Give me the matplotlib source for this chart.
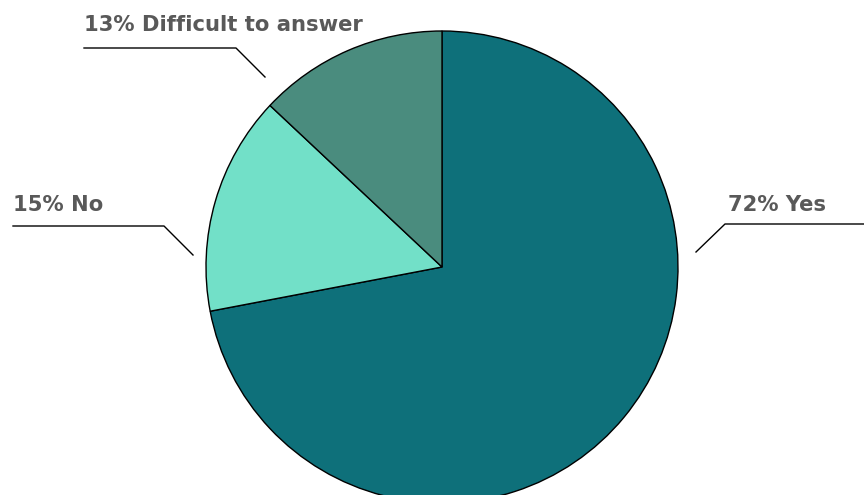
import matplotlib.pyplot as plt

# Survey answer shares, in percent
answers = ["Yes", "No", "Difficult to answer"]
shares = [72, 15, 13]
colors = ["#0e707a", "#72e0c8", "#4a8c7e"]

W, H = 864, 495

fig = plt.figure(figsize=(W / 100, H / 100), dpi=100)
ax = fig.add_axes([0, 0, 1, 1])

ax.pie(
    shares,
    colors=colors,
    startangle=90,
    counterclock=False,
    center=(442, H - 267),
    radius=236,
    wedgeprops={"edgecolor": "black", "linewidth": 1.0},
    frame=True,
)
ax.set_xlim(0, W)
ax.set_ylim(0, H)
ax.set_aspect("equal")
ax.axis("off")

# leader lines: (start near pie, elbow, end of horizontal), text position
leaders = {
    "Yes": ((696, 252), (725, 224), (864, 224), (728, 211)),
    "No": ((193, 255), (164, 226), (13, 226), (13, 211)),
    "Difficult to answer": ((265, 77), (236, 48), (84, 48), (84, 31)),
}

for name, share in zip(answers, shares):
    p0, p1, p2, (tx, ty) = leaders[name]
    xs = [p0[0], p1[0], p2[0]]
    ys = [H - p0[1], H - p1[1], H - p2[1]]
    ax.plot(xs, ys, color="black", linewidth=1.0, clip_on=False)
    ax.text(
        tx, H - ty, f"{share}% {name}",
        fontsize=15.2, fontweight="bold", color="#595959",
        family="DejaVu Sans", ha="left", va="baseline",
    )

fig.savefig("out.png", dpi=100)
